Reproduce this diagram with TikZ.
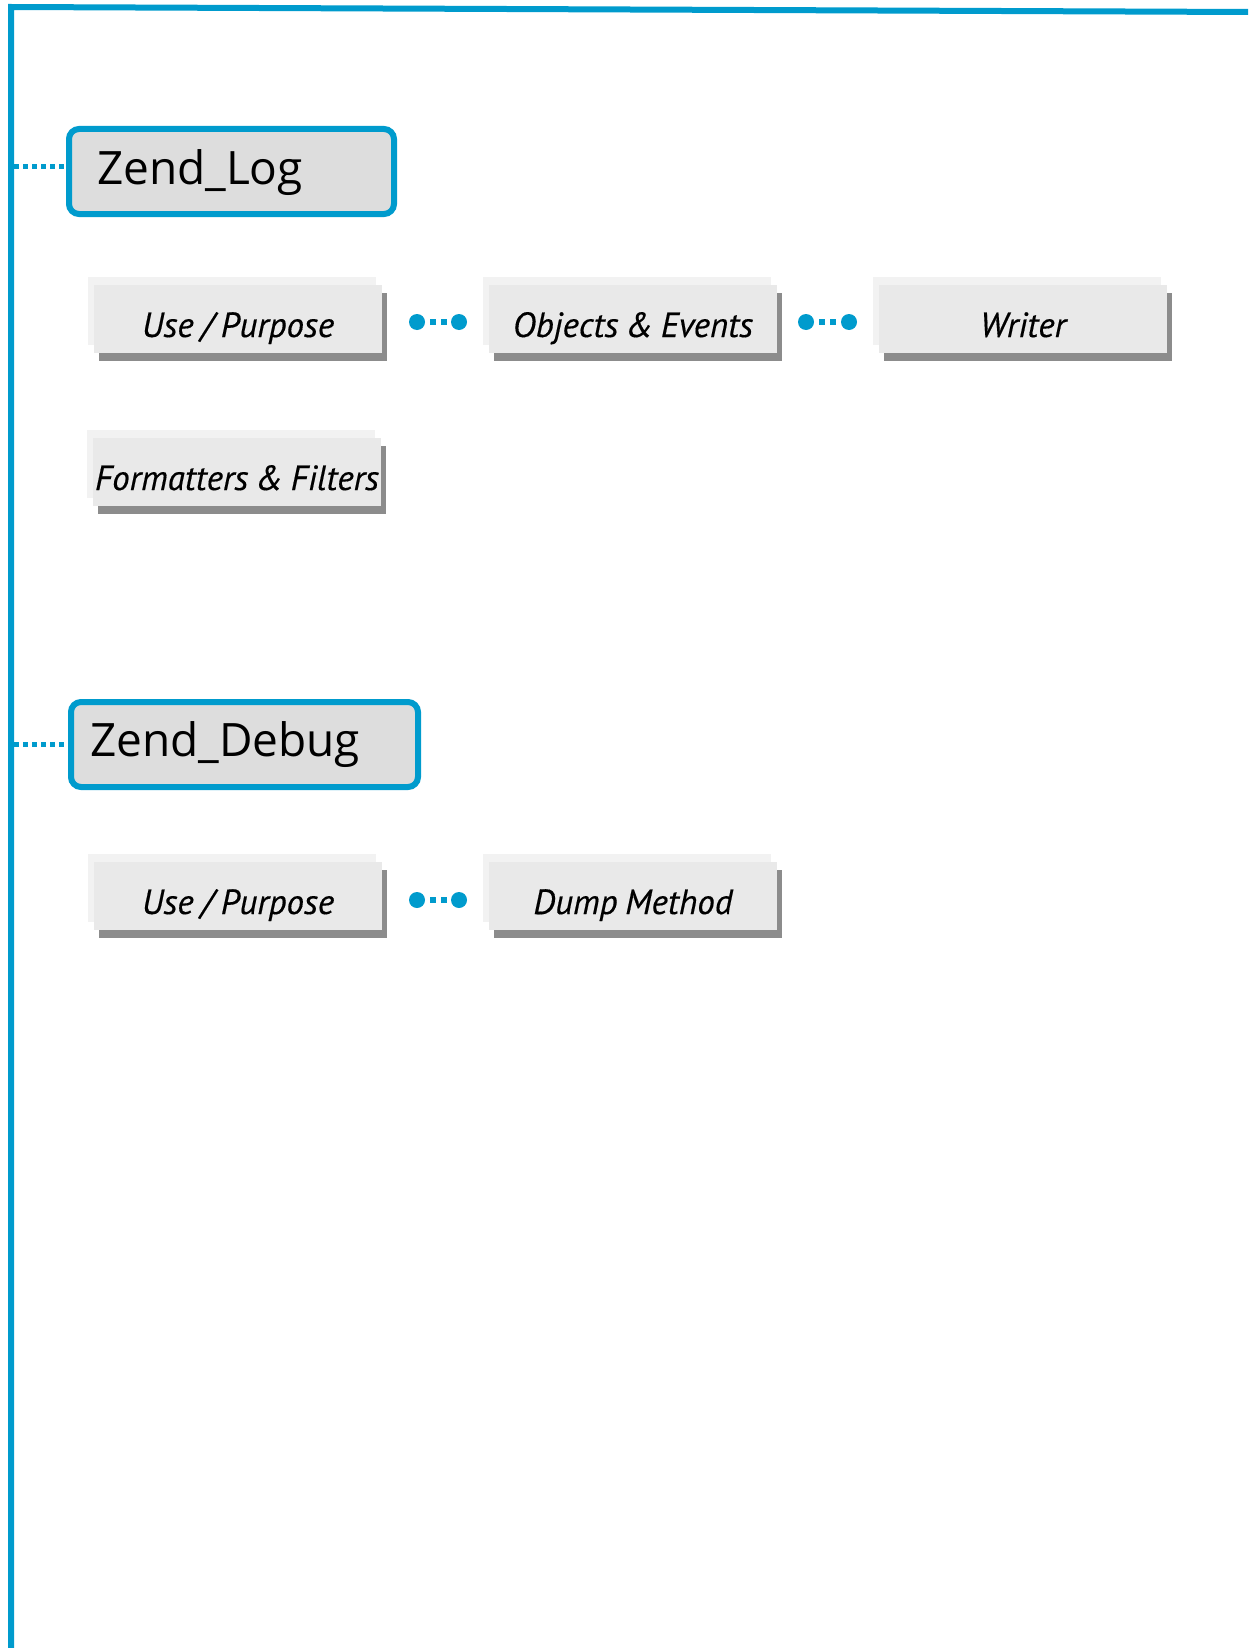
\documentclass[tikz,border=0pt]{standalone}
\usepackage{fontspec}
\setmainfont{Open Sans}
\newfontfamily\topicfont[FakeBold=0.35]{PT Sans}
\usetikzlibrary{shadows}

\definecolor{zblue}{RGB}{0,155,205}
\definecolor{mainfill}{RGB}{221,221,221}
\definecolor{topicfill}{RGB}{233,233,233}
\definecolor{backfill}{RGB}{242,242,242}
\definecolor{shadowfill}{RGB}{140,140,140}

\tikzset{
  frameline/.style={draw=zblue, line width=6pt, line join=miter},
  mainbox/.style={draw=zblue, line width=6pt, fill=mainfill, rounded corners=10pt,
    inner ysep=0pt, anchor=north west, minimum height=85pt, align=left,
    font=\fontsize{46}{50}\selectfont},
  topicbox/.style={fill=topicfill, inner sep=0pt, outer sep=0pt, anchor=north west,
    minimum width=288pt, minimum height=68pt,
    text height=52pt, text depth=16pt,
    font={\topicfont\itshape\fontsize{35}{38}\selectfont\spaceskip=0.22em\relax},
    general shadow={fill=backfill, shadow xshift=-6pt, shadow yshift=8pt},
    general shadow={fill=shadowfill, shadow xshift=5pt, shadow yshift=-8pt}},
  framelink/.style={draw=zblue, line width=5pt, dash pattern=on 5pt off 4pt},
  knob/.style={circle, fill=zblue, inner sep=0pt, minimum size=16pt},
  knoblink/.style={draw=zblue, line width=6pt, dash pattern=on 6pt off 5pt, dash phase=6pt}
}

\begin{document}
\begin{tikzpicture}[x=1pt, y=-1pt]
\useasboundingbox (0,0) rectangle (1248,1648);

% outer frame
\draw[frameline] (11,1648) -- (11,7) -- (1248,12);

% section headers (anchored at the outer edge of the border)
\node[mainbox, minimum width=325pt, inner xsep=28pt, text width=269pt,
      text height=56pt, text depth=29pt] (log) at (66,126) {Zend\_Log};
\node[mainbox, minimum width=347pt, inner xsep=19pt, text width=309pt,
      text height=54pt, text depth=31pt] (debug) at (68,699) {Zend\_Debug};

\coordinate (logtap) at (14,167);
\coordinate (debugtap) at (14,744);
\draw[framelink] (logtap) -- (logtap -| log.west);
\draw[framelink] (debugtap) -- (debugtap -| debug.west);

% Zend_Log topics
\node[topicbox] (logUse) at (94,285) {Use / Purpose};
\node[topicbox] (logObj) at (489,285) {Objects \& Events};
\node[topicbox] (logWriter) at (879,285) {Writer};
\node[topicbox] (logFmt) at (93,438) {Formatters \& Filters};

\node[knob] (k1a) at (417,322) {};
\node[knob] (k1b) at (459,322) {};
\draw[knoblink] (k1a) -- (k1b);
\node[knob] (k2a) at (806,322) {};
\node[knob] (k2b) at (849,322) {};
\draw[knoblink] (k2a) -- (k2b);

% Zend_Debug topics
\node[topicbox] (dbgUse) at (94,862) {Use / Purpose};
\node[topicbox] (dbgDump) at (489,862) {Dump Method};

\node[knob] (k3a) at (417,900) {};
\node[knob] (k3b) at (459,900) {};
\draw[knoblink] (k3a) -- (k3b);
\end{tikzpicture}
\end{document}
